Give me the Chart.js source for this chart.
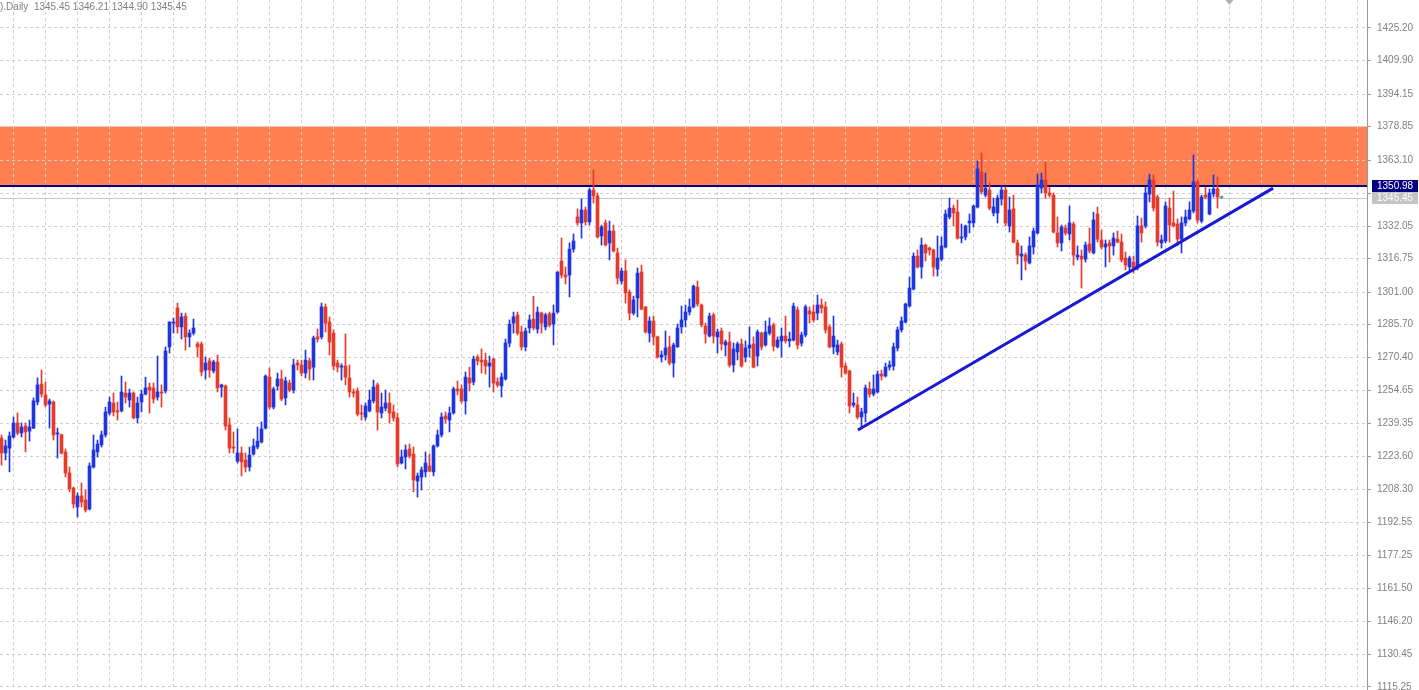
<!DOCTYPE html>
<html>
<head>
<meta charset="utf-8">
<script src="https://cdn.jsdelivr.net/npm/chart.js@4.4.1/dist/chart.umd.min.js"></script>
<style>
  html, body { margin: 0; padding: 0; background: #fff; }
  #wrap { position: relative; width: 1419px; height: 690px; overflow: hidden; }
  #hdr { position: absolute; left: 0; top: 1px; font: 10px 'Liberation Sans', Arial, sans-serif; color: #808080; white-space: pre; }
</style>
</head>
<body>
<div id="wrap">
  <canvas id="chart"></canvas>
  <div id="hdr">).Daily  1345.45 1346.21 1344.90 1345.45</div>
</div>
<script>
// Velas diárias - uma entrada por dia
const opens = [
  1232.3,1225.3,1227.6,1232.8,1239.4,1234.7,1238.0,1235.6,1237.0,1249.3,1257.7,1252.6,1248.3,1249.3,1234.2,1233.8,1225.8,1215.9,1208.8,1199.9,
  1205.1,1203.2,1199.0,1218.7,1225.8,1229.1,1233.8,1244.1,1248.8,1245.1,1245.1,1253.5,1250.2,1253.5,1241.8,1249.3,1253.0,1256.3,1255.9,1251.6,
  1254.0,1254.5,1275.2,1286.4,1293.5,1284.6,1289.7,1279.9,1281.7,1276.6,1276.6,1264.3,1268.6,1263.9,1268.1,1256.3,1256.8,1238.5,1228.1,1221.5,
  1225.3,1222.0,1218.7,1224.8,1228.1,1230.5,1237.0,1261.0,1246.9,1256.8,1260.1,1251.2,1258.2,1254.9,1267.6,1266.7,1262.9,1268.6,1265.7,1279.9,
  1279.9,1294.0,1286.9,1281.7,1267.6,1265.7,1266.2,1260.6,1254.0,1254.5,1244.1,1242.2,1245.1,1249.8,1257.3,1244.1,1246.4,1248.8,1244.6,1241.8,
  1220.6,1223.4,1227.2,1224.8,1212.1,1214.0,1216.4,1219.2,1216.4,1228.6,1233.8,1242.7,1240.8,1244.1,1255.4,1255.4,1249.8,1260.6,1258.7,1270.4,
  1269.0,1269.0,1266.2,1269.5,1258.7,1256.8,1260.1,1277.0,1286.4,1290.2,1282.2,1275.2,1284.1,1288.3,1283.6,1291.1,1284.6,1290.7,1285.9,1291.6,
  1315.6,1309.0,1309.0,1321.2,1336.3,1333.5,1339.6,1334.0,1349.0,1346.2,1327.4,1333.5,1324.1,1329.7,1319.4,1306.2,1310.9,1301.0,1291.1,1298.2,
  1310.4,1294.0,1281.7,1287.4,1279.9,1270.4,1271.4,1275.2,1267.6,1275.2,1284.6,1287.9,1291.6,1294.0,1303.4,1294.9,1285.0,1280.3,1290.2,1279.9,
  1282.7,1276.1,1277.5,1266.7,1272.8,1276.6,1270.4,1274.7,1276.6,1270.9,1281.7,1276.1,1281.7,1285.5,1275.2,1278.0,1280.3,1278.0,1278.4,1292.6,
  1277.0,1280.8,1292.1,1291.6,1291.1,1294.9,1294.0,1284.6,1275.2,1272.8,1276.6,1266.2,1263.9,1247.9,1247.9,1242.2,1244.1,1255.4,1253.0,1254.0,
  1262.4,1261.5,1265.7,1266.2,1274.7,1283.2,1286.9,1294.4,1302.4,1317.9,1312.8,1323.1,1321.7,1320.8,1311.8,1316.5,1322.2,1336.3,1340.5,1338.6,
  1326.4,1326.9,1333.5,1333.5,1341.0,1357.5,1346.6,1349.0,1338.2,1338.2,1344.8,1349.0,1332.1,1340.1,1324.1,1317.9,1318.4,1314.7,1322.2,1328.8,
  1349.9,1353.7,1347.6,1346.6,1328.8,1324.1,1331.1,1328.3,1333.0,1317.5,1317.9,1316.5,1323.6,1319.4,1337.7,1325.5,1322.2,1324.1,1322.7,1325.9,
  1324.5,1317.0,1312.8,1315.1,1312.3,1332.1,1332.1,1347.1,1353.7,1345.7,1324.1,1325.0,1340.5,1333.5,1333.0,1325.9,1333.5,1335.4,1339.1,1352.8,
  1334.4,1346.6,1337.7,1347.1,1349.5,1345.45
];
const highs = [
  1233.8,1231.4,1235.2,1242.2,1244.1,1239.4,1239.4,1240.8,1251.2,1260.6,1264.3,1258.7,1250.7,1249.8,1237.0,1234.2,1227.2,1218.7,1209.3,1206.5,
  1211.2,1207.9,1220.6,1233.8,1231.4,1235.6,1246.9,1251.6,1253.5,1249.3,1261.5,1258.7,1255.4,1254.0,1251.6,1254.9,1261.0,1258.2,1258.2,1270.9,
  1257.3,1275.2,1287.1,1288.8,1295.8,1291.1,1291.1,1283.2,1288.3,1277.5,1277.5,1270.4,1269.9,1269.0,1271.4,1257.7,1257.3,1241.8,1235.2,1236.6,
  1228.1,1225.3,1228.1,1231.9,1237.5,1239.9,1262.0,1265.3,1256.3,1262.9,1264.3,1261.0,1259.6,1269.5,1269.0,1269.0,1273.7,1269.9,1280.3,1283.6,
  1295.8,1295.4,1289.3,1283.2,1269.0,1267.2,1281.3,1266.7,1255.4,1255.9,1247.9,1248.8,1254.9,1259.6,1258.2,1253.5,1254.9,1253.5,1247.9,1244.1,
  1226.7,1229.1,1229.5,1228.1,1215.9,1218.7,1225.8,1224.8,1229.1,1236.1,1244.1,1244.6,1246.9,1256.3,1259.2,1257.3,1263.4,1265.7,1270.9,1271.4,
  1274.2,1272.3,1270.9,1269.9,1260.6,1262.9,1278.9,1287.9,1291.6,1291.6,1285.0,1284.1,1290.2,1299.0,1294.0,1291.6,1291.1,1291.6,1294.9,1310.6,
  1326.4,1312.8,1324.1,1328.3,1340.1,1344.8,1341.0,1349.9,1358.4,1347.6,1332.5,1334.9,1334.4,1332.5,1321.7,1312.3,1316.1,1302.0,1299.1,1312.3,
  1313.7,1294.2,1289.3,1289.7,1280.3,1273.3,1282.7,1280.3,1277.0,1286.0,1294.4,1294.9,1297.7,1304.3,1306.2,1295.4,1286.4,1291.1,1291.1,1283.6,
  1284.1,1278.4,1282.2,1277.0,1277.5,1278.9,1278.0,1284.6,1279.9,1283.2,1282.2,1287.4,1288.8,1286.4,1279.9,1284.1,1289.7,1282.2,1295.8,1294.0,
  1282.2,1294.9,1294.0,1294.9,1299.6,1297.7,1296.3,1285.5,1289.7,1278.4,1277.5,1267.6,1264.3,1253.5,1251.6,1246.4,1257.3,1258.7,1262.0,1263.9,
  1264.3,1267.6,1268.6,1277.0,1284.6,1289.3,1295.8,1308.1,1319.4,1320.8,1326.4,1323.6,1322.2,1321.2,1327.4,1326.9,1339.6,1345.2,1341.9,1344.3,
  1333.0,1332.5,1337.7,1341.9,1362.6,1366.4,1357.0,1352.3,1345.2,1346.6,1350.9,1350.4,1345.7,1346.6,1325.5,1322.7,1319.4,1326.9,1331.1,1356.5,
  1357.0,1362.2,1350.4,1347.6,1336.3,1332.5,1332.5,1341.5,1333.9,1322.7,1320.8,1324.5,1331.1,1338.6,1341.0,1330.2,1325.5,1325.5,1328.8,1329.7,
  1328.3,1319.8,1317.9,1317.9,1336.8,1335.8,1350.4,1356.5,1356.1,1346.6,1327.8,1343.4,1345.2,1348.5,1335.4,1336.3,1339.6,1343.4,1365.5,1353.7,
  1346.6,1350.4,1349.5,1356.1,1355.1,1346.21
];
const lows = [
  1219.6,1222.0,1216.4,1232.3,1233.8,1232.8,1225.8,1230.9,1236.8,1247.9,1251.6,1246.9,1237.0,1231.4,1222.9,1224.8,1214.0,1207.0,1199.4,1195.2,
  1199.9,1197.5,1198.5,1218.2,1223.4,1228.1,1232.8,1243.2,1242.7,1240.8,1244.6,1248.8,1246.9,1241.3,1239.4,1244.6,1252.6,1244.1,1248.8,1250.2,
  1246.9,1253.5,1272.3,1281.7,1281.7,1278.9,1273.7,1275.2,1280.8,1270.4,1261.5,1260.1,1261.0,1262.9,1254.0,1251.6,1236.1,1225.3,1225.3,1220.6,
  1214.5,1216.4,1216.8,1224.3,1227.2,1230.0,1236.6,1246.0,1246.0,1254.9,1249.8,1247.9,1254.0,1253.5,1264.3,1261.5,1260.6,1259.6,1259.6,1277.5,
  1278.9,1282.2,1271.4,1264.3,1263.4,1259.6,1257.3,1251.6,1251.6,1242.7,1240.8,1240.8,1244.6,1248.8,1236.1,1241.8,1245.1,1239.4,1240.3,1218.7,
  1220.1,1217.8,1222.9,1207.0,1204.6,1207.9,1214.0,1216.4,1214.5,1228.1,1232.8,1239.4,1235.2,1243.6,1252.6,1248.8,1243.6,1254.5,1257.3,1266.7,
  1262.9,1262.4,1256.3,1254.0,1256.3,1251.6,1259.6,1275.2,1281.7,1280.8,1273.7,1273.3,1281.7,1283.2,1281.7,1281.7,1283.2,1284.6,1276.1,1291.1,
  1307.6,1304.8,1298.7,1319.8,1332.5,1326.4,1332.5,1332.5,1342.9,1326.4,1323.1,1322.7,1316.1,1319.8,1304.8,1304.8,1295.8,1287.9,1290.2,1289.3,
  1292.6,1281.7,1277.5,1276.1,1269.9,1268.1,1269.0,1266.7,1261.0,1275.0,1281.7,1284.6,1290.2,1293.5,1294.4,1284.6,1277.0,1279.9,1277.0,1272.3,
  1273.7,1270.9,1265.7,1263.4,1269.0,1265.7,1268.1,1270.4,1265.3,1266.2,1273.7,1275.6,1280.8,1273.3,1274.7,1270.4,1277.0,1275.2,1278.0,1274.2,
  1275.6,1279.9,1286.4,1286.9,1287.9,1291.1,1281.7,1274.7,1271.9,1271.4,1261.0,1262.4,1244.1,1246.9,1241.3,1237.5,1239.9,1251.6,1252.1,1253.5,
  1259.6,1261.0,1264.3,1264.3,1273.3,1282.2,1286.4,1294.0,1302.0,1312.3,1307.5,1315.6,1318.4,1308.5,1308.5,1315.6,1321.7,1335.4,1332.1,1325.9,
  1324.1,1325.5,1328.8,1331.6,1340.5,1347.1,1345.7,1339.6,1336.8,1333.5,1341.9,1332.1,1329.2,1324.1,1314.2,1306.7,1311.4,1314.2,1318.9,1328.3,
  1347.6,1345.2,1345.7,1328.8,1322.2,1320.3,1327.8,1325.5,1313.7,1316.1,1302.9,1315.1,1319.4,1318.9,1324.5,1321.2,1312.8,1315.1,1318.4,1324.1,
  1315.1,1311.4,1311.4,1309.9,1311.4,1324.5,1331.1,1343.4,1339.1,1322.7,1321.7,1324.1,1324.5,1331.6,1322.7,1319.4,1332.1,1334.9,1338.2,1333.5,
  1333.5,1344.8,1337.3,1345.7,1340.5,1344.90
];
const closes = [
  1225.3,1228.6,1233.3,1239.4,1234.7,1237.5,1235.2,1237.5,1249.8,1257.3,1253.0,1247.9,1249.8,1233.8,1234.7,1225.3,1215.9,1208.4,1201.3,1205.1,
  1202.2,1198.5,1219.2,1226.7,1229.5,1233.8,1244.6,1249.3,1244.6,1244.6,1254.0,1251.6,1253.5,1241.8,1248.8,1253.0,1255.9,1254.9,1250.7,1254.0,
  1253.5,1273.3,1286.9,1286.9,1284.6,1289.3,1279.9,1281.7,1284.1,1275.2,1263.4,1267.6,1264.3,1268.1,1255.9,1257.3,1238.0,1227.6,1227.6,1225.3,
  1221.1,1218.7,1224.3,1228.6,1230.9,1236.6,1261.5,1246.9,1255.4,1260.1,1250.7,1259.2,1254.9,1266.7,1266.7,1262.9,1269.0,1264.8,1279.4,1278.9,
  1294.0,1286.4,1277.5,1266.2,1265.7,1266.2,1261.0,1254.0,1253.5,1243.6,1243.6,1247.4,1250.2,1256.3,1244.6,1246.9,1248.8,1244.1,1241.8,1220.1,
  1223.4,1226.7,1223.9,1212.6,1214.5,1217.3,1220.6,1216.8,1228.6,1233.8,1242.2,1241.3,1244.1,1255.4,1254.5,1249.8,1261.0,1258.2,1269.5,1268.6,
  1268.1,1266.2,1267.6,1258.2,1257.3,1261.0,1277.0,1285.9,1289.3,1281.7,1275.2,1282.7,1287.9,1284.1,1291.6,1286.4,1290.2,1285.5,1291.1,1310.4,
  1309.0,1308.1,1321.2,1325.0,1333.5,1339.6,1334.0,1349.0,1346.2,1326.9,1331.6,1323.1,1329.7,1320.3,1307.6,1310.9,1300.6,1291.1,1297.3,1309.9,
  1293.0,1282.2,1287.4,1279.9,1270.4,1271.4,1274.7,1267.6,1276.1,1284.1,1287.9,1291.6,1294.0,1303.8,1295.4,1285.5,1281.3,1289.7,1280.3,1282.2,
  1276.6,1277.5,1266.7,1274.2,1276.6,1266.2,1274.7,1276.1,1265.7,1282.2,1275.2,1282.2,1285.0,1275.6,1278.4,1280.3,1278.0,1278.9,1294.4,1276.1,
  1280.8,1294.0,1290.7,1287.9,1294.9,1293.5,1283.2,1275.2,1280.3,1276.1,1265.7,1262.9,1247.4,1248.8,1242.2,1244.6,1255.9,1253.0,1255.4,1262.4,
  1261.5,1265.7,1266.7,1275.2,1283.2,1287.4,1295.4,1302.9,1317.9,1312.8,1323.1,1319.4,1320.8,1312.8,1317.0,1322.7,1337.7,1340.5,1338.2,1326.4,
  1326.9,1332.1,1334.4,1341.5,1358.9,1348.1,1349.9,1340.5,1341.0,1345.2,1349.0,1333.5,1339.6,1324.5,1318.4,1318.9,1315.6,1322.7,1329.7,1351.3,
  1353.7,1347.6,1346.6,1329.2,1324.1,1331.6,1328.8,1333.5,1318.4,1318.4,1316.5,1323.1,1320.3,1334.9,1325.9,1322.2,1323.6,1322.7,1326.4,1324.5,
  1316.1,1313.7,1317.0,1312.3,1332.1,1328.8,1347.6,1353.7,1340.5,1324.5,1325.5,1341.5,1332.5,1332.1,1325.9,1333.5,1336.3,1339.6,1352.8,1334.9,
  1345.7,1345.7,1347.6,1349.5,1345.7,1345.45
];

// Objetos do gráfico
const zoneLow = 1350.98, zoneHigh = 1378.85;   // zona de resistência
const lastLevel = 1350.98;                      // linha azul-marinho
const bidLevel = 1345.45;                       // linha do preço atual
const trendIdx = [214.1, 317.9];
const trendPrice = [1236.1, 1349.9];

// Eixo de preços (direita)
const yTicks = [1425.20, 1409.90, 1394.15, 1378.85, 1363.10, 1347.55, 1332.05, 1316.75, 1301.00, 1285.70,
  1270.40, 1254.65, 1239.35, 1223.60, 1208.30, 1192.55, 1177.25, 1161.50, 1146.20, 1130.45, 1115.25];

const BULL = '#1f35e0', BEAR = '#e63a2a', DOJI = '#3cb49a';
const GRID = '#cfcfcf';

const idx = opens.map((_, i) => i);
const candleColor = idx.map(i => closes[i] > opens[i] ? BULL : (closes[i] < opens[i] ? BEAR : DOJI));

const overlays = {
  id: 'overlays',
  beforeDraw(chart) {
    const { ctx, chartArea: a, scales: { y } } = chart;
    const t = y.getPixelForValue(zoneHigh), b = y.getPixelForValue(zoneLow);
    ctx.save();
    ctx.fillStyle = '#ff7f50';
    ctx.fillRect(a.left, t, a.right - a.left, b - t);
    ctx.restore();
  },
  beforeDatasetsDraw(chart) {
    const { ctx, chartArea: a, scales: { y } } = chart;
    ctx.save();
    let p = Math.round(y.getPixelForValue(bidLevel)) + 0.5;
    ctx.strokeStyle = '#c8c8c8'; ctx.lineWidth = 1;
    ctx.beginPath(); ctx.moveTo(a.left, p); ctx.lineTo(a.right, p); ctx.stroke();
    p = Math.round(y.getPixelForValue(lastLevel));
    ctx.strokeStyle = '#000080'; ctx.lineWidth = 2;
    ctx.beginPath(); ctx.moveTo(a.left, p); ctx.lineTo(a.right, p); ctx.stroke();
    ctx.restore();
  },
  afterDraw(chart) {
    const { ctx, chartArea: a, scales: { x, y } } = chart;
    ctx.save();
    ctx.font = '10px "Liberation Sans", Arial, sans-serif';
    ctx.textBaseline = 'middle';
    const box = (v, bg) => {
      const c = Math.round(y.getPixelForValue(v));
      ctx.fillStyle = bg;
      ctx.fillRect(a.right + 5, c - 6, 46, 12);
      ctx.fillStyle = '#fff';
      ctx.fillText(v.toFixed(2), a.right + 10, c + 0.5);
    };
    box(bidLevel, '#c4c4c4');
    box(lastLevel, '#000080');
    // marcador de deslocamento no topo
    const sx = x.getPixelForValue(307);
    ctx.fillStyle = '#b0b0b0';
    ctx.beginPath(); ctx.moveTo(sx - 4, 0); ctx.lineTo(sx + 4, 0); ctx.lineTo(sx, 5); ctx.closePath(); ctx.fill();
    ctx.restore();
  }
};

new Chart(document.getElementById('chart'), {
  type: 'bar',
  data: {
    datasets: [
      {
        type: 'line',
        data: trendIdx.map((v, i) => ({ x: v, y: trendPrice[i] })),
        borderColor: '#1a1ad6',
        borderWidth: 3,
        pointRadius: 0,
        order: 0
      },
      {
        data: idx.map(i => ({ x: i, y: [opens[i], closes[i]] })),
        backgroundColor: candleColor,
        barThickness: 3,
        minBarLength: 1,
        grouped: false,
        order: 1
      },
      {
        data: idx.map(i => ({ x: i, y: [lows[i], highs[i]] })),
        backgroundColor: candleColor,
        barThickness: 1,
        minBarLength: 1,
        grouped: false,
        order: 2
      }
    ]
  },
  options: {
    responsive: true,
    maintainAspectRatio: false,
    animation: false,
    events: [],
    layout: { padding: 0 },
    plugins: { legend: { display: false }, tooltip: { enabled: false } },
    scales: {
      x: {
        type: 'linear',
        min: -0.375,
        max: 341.375,
        offset: false,
        ticks: { display: false },
        grid: { color: GRID, offset: false, drawTicks: false },
        border: { display: false, dash: [3, 3] },
        afterBuildTicks: s => {
          const t = [];
          for (let v = 3; v <= 341; v += 8) t.push({ value: v });
          s.ticks = t;
        },
        afterFit: s => { s.height = 0; }
      },
      y: {
        position: 'right',
        min: 1113.82,
        max: 1438.37,
        ticks: {
          color: '#808080',
          padding: 6,
          font: { family: 'Liberation Sans', size: 10 },
          callback: v => Number(v).toFixed(2)
        },
        grid: { color: GRID, tickLength: 4, tickColor: '#9a9a9a', tickBorderDash: [] },
        border: { display: true, color: '#9a9a9a', dash: [3, 3] },
        afterBuildTicks: s => { s.ticks = yTicks.map(v => ({ value: v })); },
        afterFit: s => { s.width = 52; s.paddingTop = 0; s.paddingBottom = 0; }
      }
    }
  },
  plugins: [overlays]
});
</script>
</body>
</html>
